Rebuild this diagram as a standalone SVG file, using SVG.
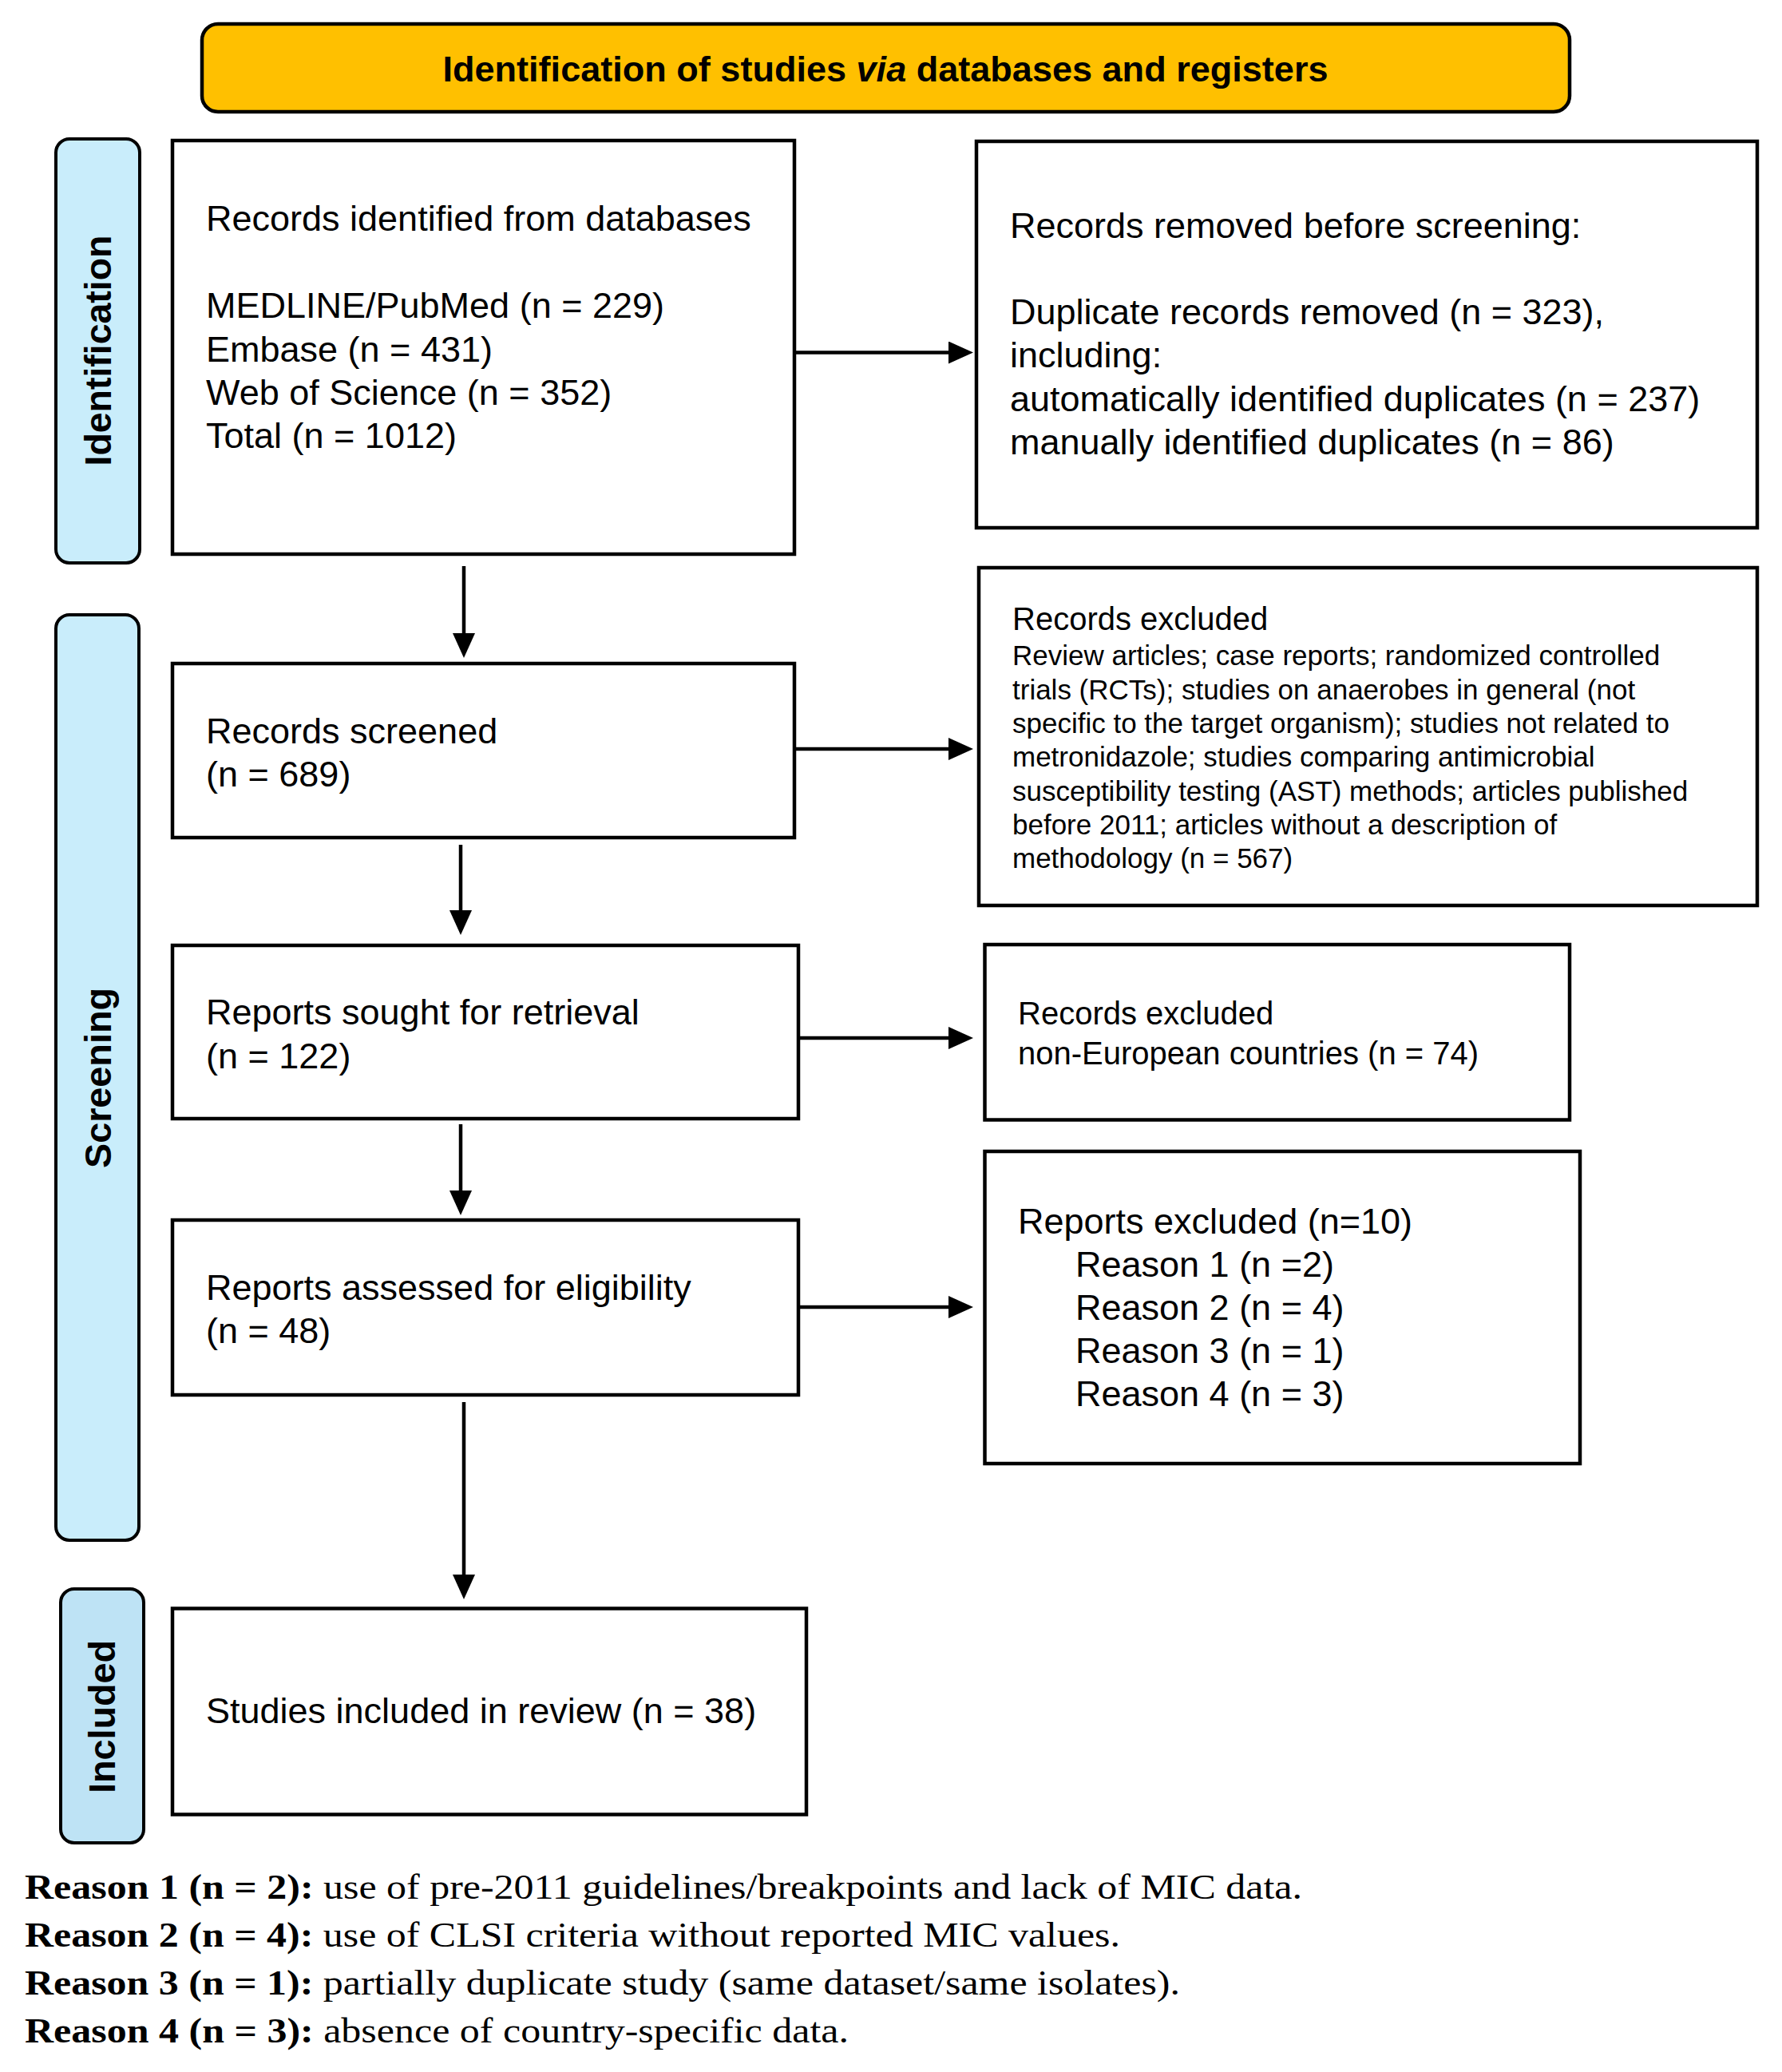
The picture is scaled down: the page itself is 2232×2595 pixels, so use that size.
<svg xmlns="http://www.w3.org/2000/svg" width="2232" height="2595" viewBox="0 0 2232 2595">
<style>
.bg{fill:#ffffff}
.box{fill:#ffffff;stroke:#000;stroke-width:4.5}
.hdr{fill:#FFC000;stroke:#000;stroke-width:4.5}
.side{fill:#C9EDFB;stroke:#000;stroke-width:4}
.side2{fill:#BEE3F5;stroke:#000;stroke-width:4}
.t{font-family:"Liberation Sans",Arial,sans-serif;font-size:45px;fill:#000}
.s40{font-size:40px}
.s35{font-size:35px}
.hb{font-family:"Liberation Sans",Arial,sans-serif;font-size:45px;font-weight:bold;fill:#000}
.lab{font-family:"Liberation Sans",Arial,sans-serif;font-size:46px;font-weight:bold;fill:#000}
.fn{font-family:"Liberation Serif","Times New Roman",serif;font-size:45px;fill:#000}
.conn{stroke:#000;stroke-width:4.5;fill:none}
</style>
<defs>
<marker id="ah" markerUnits="userSpaceOnUse" markerWidth="34" markerHeight="30" refX="11" refY="14" orient="auto">
<path d="M0,0 L31,14 L0,28 z" fill="#000"/>
</marker>
</defs>
<rect class="bg" x="0" y="0" width="2232" height="2595"/>

<g id="header">
<rect class="hdr" x="253" y="30" width="1713" height="110" rx="20" ry="20"/>
<text class="hb" x="1109" y="102" text-anchor="middle" textLength="1109" lengthAdjust="spacingAndGlyphs">Identification of studies <tspan font-style="italic">via</tspan> databases and registers</text>
</g>

<g id="phase-identification">
<rect class="side" x="70" y="174" width="105" height="531" rx="17" ry="17"/>
<text class="lab" transform="translate(139,439) rotate(-90)" text-anchor="middle" textLength="289" lengthAdjust="spacingAndGlyphs">Identification</text>
</g>
<g id="phase-screening">
<rect class="side" x="70" y="770" width="104" height="1159" rx="17" ry="17"/>
<text class="lab" transform="translate(139,1350) rotate(-90)" text-anchor="middle" textLength="226" lengthAdjust="spacingAndGlyphs">Screening</text>
</g>
<g id="phase-included">
<rect class="side2" x="76" y="1990" width="104" height="318" rx="17" ry="17"/>
<text class="lab" transform="translate(144,2150) rotate(-90)" text-anchor="middle" textLength="192" lengthAdjust="spacingAndGlyphs">Included</text>
</g>

<g id="node-identified">
<rect class="box" x="216" y="176" width="779" height="518"/>
<text class="t" x="258" y="289">Records identified from databases</text>
<text class="t" x="258" y="398">MEDLINE/PubMed (n = 229)</text>
<text class="t" x="258" y="453">Embase (n = 431)</text>
<text class="t" x="258" y="507">Web of Science (n = 352)</text>
<text class="t" x="258" y="561">Total (n = 1012)</text>
</g>

<g id="node-removed">
<rect class="box" x="1223" y="177" width="978" height="484"/>
<text class="t" x="1265" y="298">Records removed before screening:</text>
<text class="t" x="1265" y="406">Duplicate records removed (n = 323),</text>
<text class="t" x="1265" y="460">including:</text>
<text class="t" x="1265" y="515">automatically identified duplicates (n = 237)</text>
<text class="t" x="1265" y="569">manually identified duplicates (n = 86)</text>
</g>

<g id="node-screened">
<rect class="box" x="216" y="831" width="779" height="218"/>
<text class="t" x="258" y="931">Records screened</text>
<text class="t" x="258" y="985">(n = 689)</text>
</g>

<g id="node-excluded1">
<rect class="box" x="1226" y="711" width="975" height="423"/>
<text class="t s40" x="1268" y="789">Records excluded</text>
<text class="t s35" x="1268" y="833">Review articles; case reports; randomized controlled</text>
<text class="t s35" x="1268" y="876">trials (RCTs); studies on anaerobes in general (not</text>
<text class="t s35" x="1268" y="918">specific to the target organism); studies not related to</text>
<text class="t s35" x="1268" y="960">metronidazole; studies comparing antimicrobial</text>
<text class="t s35" x="1268" y="1003">susceptibility testing (AST) methods; articles published</text>
<text class="t s35" x="1268" y="1045">before 2011; articles without a description of</text>
<text class="t s35" x="1268" y="1087">methodology (n = 567)</text>
</g>

<g id="node-sought">
<rect class="box" x="216" y="1184" width="784" height="217"/>
<text class="t" x="258" y="1283">Reports sought for retrieval</text>
<text class="t" x="258" y="1338">(n = 122)</text>
</g>

<g id="node-excluded2">
<rect class="box" x="1233.5" y="1183" width="732.5" height="219.5"/>
<text class="t s40" x="1275" y="1283">Records excluded</text>
<text class="t s40" x="1275" y="1333">non-European countries (n = 74)</text>
</g>

<g id="node-assessed">
<rect class="box" x="216" y="1528" width="784" height="219"/>
<text class="t" x="258" y="1628">Reports assessed for eligibility</text>
<text class="t" x="258" y="1682">(n = 48)</text>
</g>

<g id="node-excluded3">
<rect class="box" x="1233.5" y="1442" width="745.5" height="391"/>
<text class="t" x="1275" y="1545">Reports excluded (n=10)</text>
<text class="t" x="1347" y="1599">Reason 1 (n =2)</text>
<text class="t" x="1347" y="1653">Reason 2 (n = 4)</text>
<text class="t" x="1347" y="1707">Reason 3 (n = 1)</text>
<text class="t" x="1347" y="1761">Reason 4 (n = 3)</text>
</g>

<g id="node-included">
<rect class="box" x="216" y="2014.5" width="794" height="258"/>
<text class="t" x="258" y="2158">Studies included in review (n = 38)</text>
</g>

<g id="connectors">
<line class="conn" x1="995" y1="441.5" x2="1199" y2="441.5" marker-end="url(#ah)"/>
<line class="conn" x1="995" y1="938" x2="1199" y2="938" marker-end="url(#ah)"/>
<line class="conn" x1="1000" y1="1300" x2="1199" y2="1300" marker-end="url(#ah)"/>
<line class="conn" x1="1000" y1="1637" x2="1199" y2="1637" marker-end="url(#ah)"/>
<line class="conn" x1="581" y1="709" x2="581" y2="804" marker-end="url(#ah)"/>
<line class="conn" x1="577" y1="1058" x2="577" y2="1151" marker-end="url(#ah)"/>
<line class="conn" x1="577" y1="1408" x2="577" y2="1502" marker-end="url(#ah)"/>
<line class="conn" x1="581" y1="1756" x2="581" y2="1983" marker-end="url(#ah)"/>
</g>

<g id="footnotes">
<text class="fn" x="31" y="2378" textLength="1600" lengthAdjust="spacingAndGlyphs"><tspan font-weight="bold">Reason 1 (n = 2):</tspan> use of pre-2011 guidelines/breakpoints and lack of MIC data.</text>
<text class="fn" x="31" y="2438" textLength="1372" lengthAdjust="spacingAndGlyphs"><tspan font-weight="bold">Reason 2 (n = 4):</tspan> use of CLSI criteria without reported MIC values.</text>
<text class="fn" x="31" y="2498" textLength="1447" lengthAdjust="spacingAndGlyphs"><tspan font-weight="bold">Reason 3 (n = 1):</tspan> partially duplicate study (same dataset/same isolates).</text>
<text class="fn" x="31" y="2558" textLength="1032" lengthAdjust="spacingAndGlyphs"><tspan font-weight="bold">Reason 4 (n = 3):</tspan> absence of country-specific data.</text>
</g>
</svg>
